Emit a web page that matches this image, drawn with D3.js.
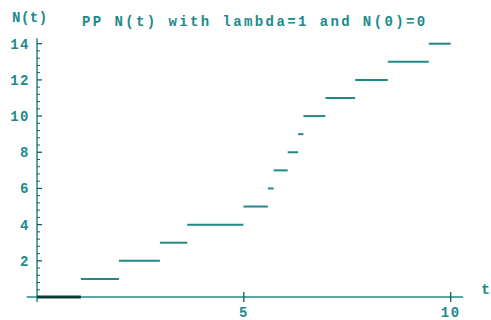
<!DOCTYPE html>
<html><head><meta charset="utf-8">
<script src="https://cdn.jsdelivr.net/npm/d3@7"></script>
<style>
body{margin:0;background:#fff;}
text{font-family:"Liberation Mono","DejaVu Sans Mono",monospace;font-weight:bold;fill:#208a8a;}
</style></head>
<body><svg id="c" width="491" height="320"></svg>
<script>
const jumpTimes = [0, 1.06, 1.98, 2.97, 3.63, 4.99, 5.58, 5.72, 6.06, 6.31, 6.44, 6.97, 7.69, 8.48, 9.47];
const counts = [0, 1, 2, 3, 4, 5, 6, 7, 8, 9, 10, 11, 12, 13, 14];
const endTime = 10;
const xTickValues = [5, 10];
const yTickValues = [2, 4, 6, 8, 10, 12, 14];
const titleText = "PP N(t) with lambda=1 and N(0)=0";
const yLabel = "N(t)";
const xLabel = "t";

const teal = "#208a8a";
const svg = d3.select("#c");
const x = d3.scaleLinear().domain([0, 10]).range([37, 450.7]);
const y = d3.scaleLinear().domain([0, 14]).range([297, 43.7]);

const segs = jumpTimes.map((t, i) => ({x0: t, x1: i < jumpTimes.length - 1 ? jumpTimes[i + 1] : endTime, n: counts[i]}));

// axes
const xAxisG = svg.append("g").attr("transform", `translate(0,${y(0)})`);
xAxisG.append("line").attr("x1", x(-0.25)).attr("x2", x(10.3)).attr("stroke", teal).attr("stroke-width", 1.5);
xAxisG.selectAll("line.tk").data(xTickValues).join("line").attr("class", "tk")
  .attr("x1", d => x(d)).attr("x2", d => x(d)).attr("y1", -5).attr("y2", 5)
  .attr("stroke", "#1a5c5c").attr("stroke-width", 1.3);
xAxisG.selectAll("text").data(xTickValues).join("text")
  .attr("x", d => x(d)).attr("y", 20).attr("text-anchor", "middle")
  .style("font-size", "14px").style("letter-spacing", "1.5px").text(d => d);

const yAxisG = svg.append("g").attr("transform", `translate(${x(0)},0)`);
yAxisG.append("line").attr("y1", y(14.3)).attr("y2", y(-0.28)).attr("stroke", teal).attr("stroke-width", 1.5);
const minor = d3.range(0, 14.01, 0.4).filter(v => Math.abs(v / 2 - Math.round(v / 2)) > 0.01);
yAxisG.selectAll("line.mn").data(minor).join("line").attr("class", "mn")
  .attr("x1", 0).attr("x2", 3).attr("y1", d => y(d)).attr("y2", d => y(d))
  .attr("stroke", "#1a5c5c").attr("stroke-width", 1);
yAxisG.selectAll("line.mj").data(yTickValues).join("line").attr("class", "mj")
  .attr("x1", 0).attr("x2", 5).attr("y1", d => y(d)).attr("y2", d => y(d))
  .attr("stroke", "#1a5c5c").attr("stroke-width", 1.3);
yAxisG.selectAll("text").data(yTickValues).join("text")
  .attr("x", -7).attr("y", d => y(d) + 5).attr("text-anchor", "end")
  .style("font-size", "14px").style("letter-spacing", "1.5px").text(d => d);

// step segments
svg.selectAll("line.seg").data(segs).join("line").attr("class", "seg")
  .attr("x1", d => x(d.x0)).attr("x2", d => x(d.x1))
  .attr("y1", d => y(d.n)).attr("y2", d => y(d.n))
  .attr("stroke", d => d.n === 0 ? "#0f3a3a" : teal)
  .attr("stroke-width", d => d.n === 0 ? 3 : 2);

// labels
svg.append("text").attr("x", 12).attr("y", 22).style("font-size", "14px").style("letter-spacing", "0.5px").text(yLabel);
svg.append("text").attr("x", 82).attr("y", 26).style("font-size", "14px").style("letter-spacing", "2.4px").text(titleText);
svg.append("text").attr("x", 481).attr("y", 294).style("font-size", "15px").text(xLabel);
</script></body></html>
